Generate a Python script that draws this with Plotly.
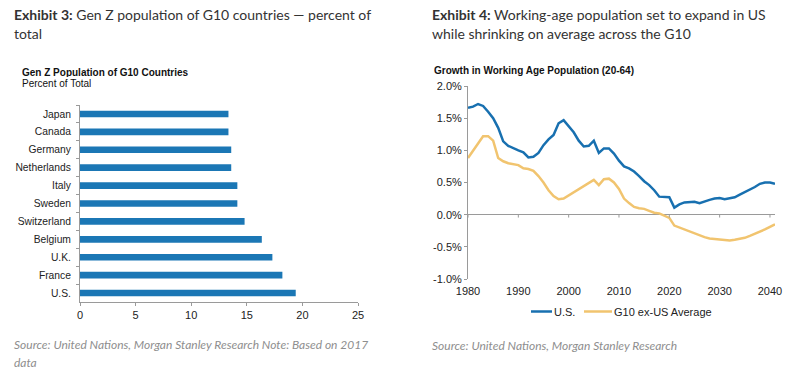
import plotly.graph_objects as go

# ---------------- data ----------------
countries = ["Japan", "Canada", "Germany", "Netherlands", "Italy", "Sweden",
             "Switzerland", "Belgium", "U.K.", "France", "U.S."]
genz_pct = [13.35, 13.35, 13.6, 13.6, 14.15, 14.15, 14.8, 16.35, 17.3, 18.2, 19.4]
bar_ticks = [0, 5, 10, 15, 20, 25]

years = list(range(1980, 2042))
us_growth = [1.66, 1.68, 1.72, 1.69, 1.60, 1.50, 1.35, 1.14, 1.07, 1.03,
             1.00, 0.97, 0.89, 0.90, 0.96, 1.08, 1.17, 1.24, 1.42, 1.47,
             1.38, 1.28, 1.15, 1.06, 1.07, 1.15, 0.96, 1.03, 1.03, 0.95,
             0.84, 0.75, 0.72, 0.67, 0.60, 0.52, 0.46, 0.38, 0.28, 0.27,
             0.27, 0.11, 0.16, 0.19, 0.20, 0.20, 0.18, 0.21, 0.23, 0.25,
             0.26, 0.24, 0.25, 0.27, 0.31, 0.35, 0.38, 0.43, 0.48, 0.50,
             0.50, 0.48]
g10_growth = [0.88, 1.00, 1.10, 1.22, 1.22, 1.15, 0.88, 0.83, 0.80, 0.78,
              0.77, 0.72, 0.71, 0.68, 0.60, 0.50, 0.38, 0.29, 0.24, 0.25,
              0.30, 0.35, 0.39, 0.44, 0.50, 0.54, 0.46, 0.55, 0.56, 0.50,
              0.40, 0.25, 0.18, 0.12, 0.10, 0.09, 0.06, 0.03, 0.02, -0.01,
              -0.05, -0.17, -0.20, -0.23, -0.26, -0.29, -0.33, -0.35, -0.37, -0.38,
              -0.39, -0.40, -0.40, -0.39, -0.38, -0.36, -0.33, -0.30, -0.27, -0.23,
              -0.19, -0.15]
series_names = ["U.S.", "G10 ex-US Average"]
year_ticks = [1980, 1990, 2000, 2010, 2020, 2030, 2040]
pct_ticks = [-1.0, -0.5, 0.0, 0.5, 1.0, 1.5, 2.0]
pct_labels = ["-1.0%", "-0.5%", "0.0%", "0.5%", "1.0%", "1.5%", "2.0%"]

# ---------------- style ----------------
W, H = 800, 372
AX_FONT = "Liberation Sans, Arial, sans-serif"
TITLE_FONT = "Lato, 'Open Sans', sans-serif"
BAR_BLUE = "#1b77b5"
LINE_BLUE = "#1870b0"
YELLOW = "#f1c46f"
AXIS_GREY = "#9a9a9a"
series_colors = [LINE_BLUE, YELLOW]

def px_x(p):
    return p / W

def px_y(p):
    return 1 - p / H

fig = go.Figure()

fig.add_trace(go.Bar(
    x=genz_pct, y=countries, orientation="h",
    marker=dict(color=BAR_BLUE, line=dict(width=0)),
    width=0.37, showlegend=False,
    xaxis="x", yaxis="y",
))

for name, vals, col in zip(series_names, [us_growth, g10_growth], series_colors):
    fig.add_trace(go.Scatter(
        x=years, y=vals, mode="lines", name=name,
        line=dict(color=col, width=2.5), showlegend=False,
        xaxis="x2", yaxis="y2",
    ))

tick_font = dict(family=AX_FONT, size=11, color="#222")
cat_font = dict(family=AX_FONT, size=10.3, color="#222")

fig.update_layout(
    width=W, height=H,
    margin=dict(l=0, r=0, t=0, b=0, autoexpand=False),
    paper_bgcolor="white", plot_bgcolor="white",
    xaxis=dict(domain=[px_x(80), px_x(358)], range=[0, 25],
               tickvals=bar_ticks, showgrid=False, zeroline=False,
               showline=True, linecolor=AXIS_GREY, linewidth=1,
               ticks="outside", ticklen=3, tickcolor=AXIS_GREY,
               tickfont=tick_font, anchor="y", fixedrange=True,
               automargin=False),
    yaxis=dict(domain=[px_y(302), px_y(105)], autorange="reversed",
               type="category", showgrid=False, zeroline=False,
               showline=True, linecolor=AXIS_GREY, linewidth=1,
               ticks="outside", ticklen=3, tickcolor=AXIS_GREY,
               tickson="boundaries", ticklabelstandoff=6,
               tickfont=cat_font, anchor="x", fixedrange=True,
               automargin=False),
    xaxis2=dict(domain=[px_x(468), px_x(775)], range=[1980, 2041],
                tickvals=year_ticks, showgrid=False, zeroline=False,
                showline=False, ticks="", tickfont=tick_font,
                ticklabelstandoff=4,
                anchor="y2", fixedrange=True, automargin=False),
    yaxis2=dict(domain=[px_y(279), px_y(86)], range=[-1.0, 2.0],
                tickvals=pct_ticks, ticktext=pct_labels,
                showgrid=False, zeroline=True, zerolinecolor=AXIS_GREY,
                zerolinewidth=1, showline=True, linecolor=AXIS_GREY,
                linewidth=1, ticks="outside", ticklen=3, tickcolor=AXIS_GREY,
                tickfont=tick_font, anchor="x2", fixedrange=True,
                automargin=False),
    showlegend=False,
)

# tick marks on the zero line of the right chart
for yr in year_ticks:
    fig.add_shape(type="line", xref="x2", yref="y2", x0=yr, x1=yr,
                  y0=0, y1=-0.045, line=dict(color=AXIS_GREY, width=1))

# manual legend (sample line + label)
legend_items = [(531, 552, 553), (584, 612, 613)]
for (lx0, lx1, tx), name, col in zip(legend_items, series_names, series_colors):
    fig.add_shape(type="line", xref="paper", yref="paper",
                  x0=px_x(lx0), x1=px_x(lx1), y0=px_y(311.5), y1=px_y(311.5),
                  line=dict(color=col, width=2.5))
    fig.add_annotation(x=px_x(tx), y=px_y(311.5), xref="paper", yref="paper",
                       xanchor="left", yanchor="middle", showarrow=False,
                       text=name, borderpad=0,
                       font=dict(family=AX_FONT, size=11, color="#222"))

anns = [
    dict(x=12, y=15, text="<b>Exhibit 3:</b> Gen Z population of G10 countries \u2014 percent of",
         size=14, color="#333", family=TITLE_FONT),
    dict(x=12, y=33, text="total", size=14, color="#333", family=TITLE_FONT),
    dict(x=430, y=15, text="<b>Exhibit 4:</b> Working-age population set to expand in US",
         size=14, color="#333", family=TITLE_FONT),
    dict(x=430, y=33, text="while shrinking on average across the G10",
         size=14, color="#333", family=TITLE_FONT),
    dict(x=21, y=72.5, text="<b>Gen Z Population of G10 Countries</b>",
         size=10, color="#111", family=AX_FONT, h=10),
    dict(x=21, y=82.5, text="Percent of Total", size=10, color="#111",
         family=AX_FONT, h=10),
    dict(x=432, y=70.5, text="<b>Growth in Working Age Population (20-64)</b>",
         size=10, color="#111", family=AX_FONT),
    dict(x=12, y=344, text="<i>Source: United Nations, Morgan Stanley Research Note: Based on 2017</i>",
         size=12, color="#8e8e8e", family=TITLE_FONT),
    dict(x=12, y=362, text="<i>data</i>", size=12, color="#8e8e8e", family=TITLE_FONT),
    dict(x=430, y=345, text="<i>Source: United Nations, Morgan Stanley Research</i>",
         size=12, color="#8e8e8e", family=TITLE_FONT),
]
for a in anns:
    kw = {}
    if "h" in a:
        kw["height"] = a["h"]
        kw["borderpad"] = 0
    fig.add_annotation(x=px_x(a["x"]), y=px_y(a["y"]), xref="paper", yref="paper",
                       xanchor="left", yanchor="middle", showarrow=False,
                       text=a["text"],
                       font=dict(family=a["family"], size=a["size"], color=a["color"]),
                       **kw)

fig.write_html("out.html",
               config={"displayModeBar": False, "staticPlot": True},
               post_script="document.body.style.margin='0px';")
